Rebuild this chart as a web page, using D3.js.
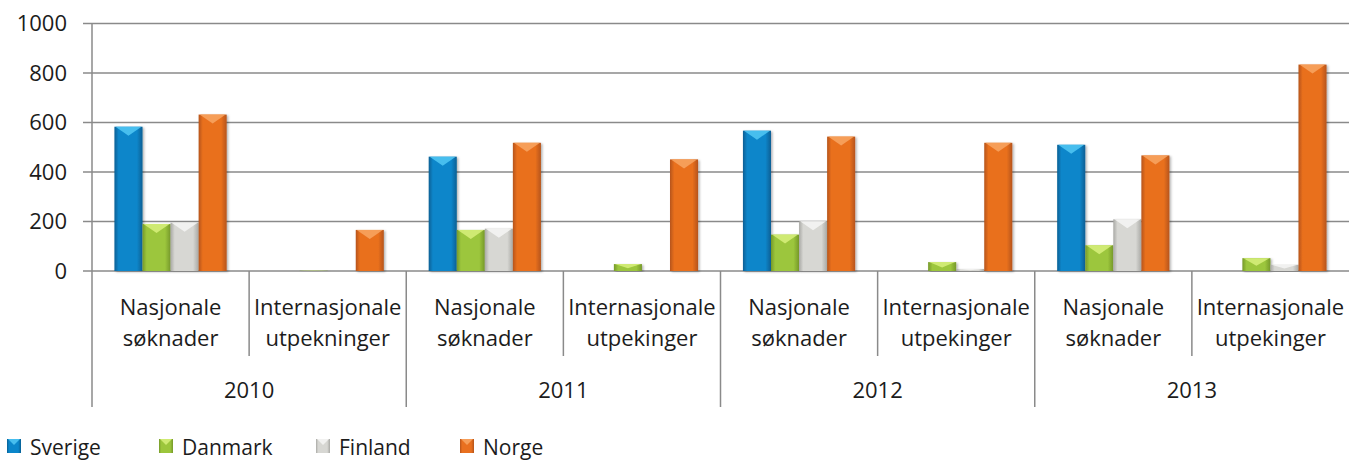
<!DOCTYPE html>
<html>
<head>
<meta charset="utf-8">
<script src="https://cdn.jsdelivr.net/npm/d3@7"></script>
<style>
  body { margin: 0; background: #fff; }
  text { font-family: "Open Sans", sans-serif; fill: #1c1c1c; }
</style>
</head>
<body>
<div id="chart"></div>
<script>
// data
var years = ['2010', '2011', '2012', '2013']
var catLines = [
  ['Nasjonale', 'søknader'], ['Internasjonale', 'utpekninger'],
  ['Nasjonale', 'søknader'], ['Internasjonale', 'utpekinger'],
  ['Nasjonale', 'søknader'], ['Internasjonale', 'utpekinger'],
  ['Nasjonale', 'søknader'], ['Internasjonale', 'utpekinger']
]
var seriesNames = ['Sverige', 'Danmark', 'Finland', 'Norge']
var sverige = [583, 0, 462, 0, 567, 0, 510, 0]
var danmark = [190, 1, 166, 28, 147, 36, 104, 52]
var finland = [195, 0, 171, 0, 201, 8, 209, 25]
var norge   = [632, 166, 518, 451, 543, 518, 467, 834]
var yTicks = [0, 200, 400, 600, 800, 1000]

var seriesValues = [sverige, danmark, finland, norge]
// main, edge, top highlight
var palette = [
  ['#0b86ca', '#075f94', '#52c8f5'],
  ['#9cc63c', '#76992a', '#d8f07c'],
  ['#d7d7d3', '#a9a9a5', '#f6f6f4'],
  ['#e9701f', '#b6541a', '#f8a664']
]

var width = 1349, height = 462
var svg = d3.select('#chart').append('svg')
  .attr('width', width)
  .attr('height', height)

var defs = svg.append('defs')
palette.forEach(function(c, i) {
  var g = defs.append('linearGradient').attr('id', 'grad' + i)
    .attr('x1', '0%').attr('x2', '100%').attr('y1', '0%').attr('y2', '0%')
  g.append('stop').attr('offset', '0%').attr('stop-color', c[1])
  g.append('stop').attr('offset', '15%').attr('stop-color', c[0])
  g.append('stop').attr('offset', '80%').attr('stop-color', c[0])
  g.append('stop').attr('offset', '100%').attr('stop-color', c[1])
})
defs.append('filter').attr('id', 'shadow')
  .attr('x', '-20%').attr('y', '-5%').attr('width', '150%').attr('height', '115%')
  .append('feDropShadow')
  .attr('dx', 1.5).attr('dy', 1).attr('stdDeviation', 1.2)
  .attr('flood-color', '#000').attr('flood-opacity', 0.3)

var plotLeft = 92, plotRight = 1349, plotTop = 23.5, plotBottom = 271

var x = d3.scaleBand().domain(d3.range(catLines.length)).range([plotLeft, plotRight])
var xInner = d3.scaleBand().domain(d3.range(seriesNames.length))
  .range([0, x.bandwidth()]).paddingOuter(0.8)
var y = d3.scaleLinear().domain([0, 1000]).range([plotBottom, plotTop])

// gridlines
svg.append('g').selectAll('line')
  .data(yTicks)
  .enter().append('line')
  .attr('x1', plotLeft - 9).attr('x2', plotRight)
  .attr('y1', function(d) { return y(d) }).attr('y2', function(d) { return y(d) })
  .attr('stroke', '#8a8a8a').attr('stroke-width', 1.5)

// y axis
var yAxis = d3.axisLeft(y).tickValues(yTicks).tickFormat(d3.format('d'))
  .tickSize(0).tickPadding(25)
var yg = svg.append('g')
  .attr('class', 'axis y-axis')
  .attr('transform', 'translate(' + plotLeft + ',0)')
  .call(yAxis)
yg.select('.domain').remove()
yg.selectAll('text').style('font-size', '22px').attr('fill', '#1c1c1c')
  .attr('font-family', '"Open Sans", sans-serif')

// vertical axis line and category separators
svg.append('line')
  .attr('x1', plotLeft).attr('x2', plotLeft)
  .attr('y1', plotTop).attr('y2', 407)
  .attr('stroke', '#8a8a8a').attr('stroke-width', 1.5)
svg.append('g').selectAll('line')
  .data(d3.range(1, catLines.length))
  .enter().append('line')
  .attr('x1', function(d) { return x(d) }).attr('x2', function(d) { return x(d) })
  .attr('y1', plotBottom)
  .attr('y2', function(d) { return d % 2 === 0 ? 407 : 356 })
  .attr('stroke', '#8a8a8a').attr('stroke-width', 1.5)

// bars
var barData = []
seriesValues.forEach(function(vals, s) {
  vals.forEach(function(v, c) {
    if (v > 0) barData.push({ s: s, c: c, v: v })
  })
})

var bars = svg.append('g').selectAll('g')
  .data(barData)
  .enter().append('g')
  .attr('filter', 'url(#shadow)')

bars.append('rect')
  .attr('x', function(d) { return x(d.c) + xInner(d.s) })
  .attr('width', xInner.bandwidth())
  .attr('y', function(d) { return y(d.v) })
  .attr('height', function(d) { return y(0) - y(d.v) })
  .attr('fill', function(d) { return 'url(#grad' + d.s + ')' })

// top bevel
bars.append('path')
  .attr('d', function(d) {
    var x0 = x(d.c) + xInner(d.s), w = xInner.bandwidth()
    var top = y(d.v), h = Math.min(9, (y(0) - y(d.v)) * 0.6)
    return 'M' + (x0 + 1) + ',' + top + 'L' + (x0 + w - 1) + ',' + top +
      'L' + (x0 + w / 2) + ',' + (top + h) + 'Z'
  })
  .attr('fill', function(d) { return palette[d.s][2] })
  .attr('opacity', 0.85)

// category labels
var catG = svg.append('g').selectAll('text')
  .data(catLines)
  .enter().append('text')
  .attr('text-anchor', 'middle')
  .style('font-size', '22px')
catG.append('tspan')
  .attr('x', function(d, i) { return x(i) + x.bandwidth() / 2 })
  .attr('y', 315)
  .text(function(d) { return d[0] })
catG.append('tspan')
  .attr('x', function(d, i) { return x(i) + x.bandwidth() / 2 })
  .attr('y', 346)
  .text(function(d) { return d[1] })

// year labels
svg.append('g').selectAll('text')
  .data(years)
  .enter().append('text')
  .attr('x', function(d, i) { return x(i * 2 + 1) })
  .attr('y', 398)
  .attr('text-anchor', 'middle')
  .style('font-size', '22px')
  .text(function(d) { return d })

// legend
var legendX = [7, 159, 316, 460]
var legend = svg.append('g').selectAll('g')
  .data(seriesNames)
  .enter().append('g')
  .attr('transform', function(d, i) { return 'translate(' + legendX[i] + ',439)' })
legend.append('rect')
  .attr('width', 14).attr('height', 14)
  .attr('fill', function(d, i) { return 'url(#grad' + i + ')' })
legend.append('path')
  .attr('d', 'M1,0L13,0L7,6Z')
  .attr('fill', function(d, i) { return palette[i][2] })
  .attr('opacity', 0.85)
legend.append('text')
  .attr('x', 23).attr('y', 16)
  .style('font-size', '21px')
  .text(function(d) { return d })
</script>
</body>
</html>
